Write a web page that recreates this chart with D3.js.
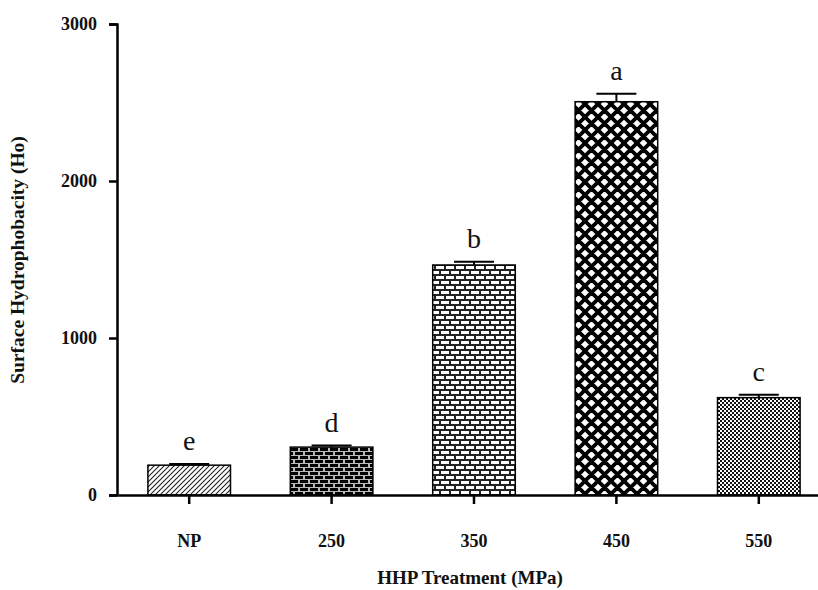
<!DOCTYPE html>
<html>
<head>
<meta charset="utf-8">
<script src="https://cdn.jsdelivr.net/npm/d3@7"></script>
<style>
  body { margin: 0; background: #fff; }
  svg { display: block; }
  .axis path, .axis line { stroke: #000; stroke-width: 2.5px; }
  .axis text { font-family: "Liberation Serif", serif; font-weight: bold; font-size: 18px; fill: #111; }
</style>
</head>
<body>
<div id="chart"></div>
<script>
// 数据
var categories = ['NP', '250', '350', '450', '550'];
var values = [190, 305, 1465, 2505, 620];
var errors = [8, 10, 20, 50, 18];
var letters = ['e', 'd', 'b', 'a', 'c'];
var yTicks = [0, 1000, 2000, 3000];

var width = 818, height = 590;
var svg = d3.select('#chart').append('svg')
  .attr('width', width)
  .attr('height', height);

// 填充图案
var defs = svg.append('defs');
function pattern(id, w, h) {
  return defs.append('pattern')
    .attr('id', id)
    .attr('patternUnits', 'userSpaceOnUse')
    .attr('width', w)
    .attr('height', h);
}
// 斜线
var p0 = pattern('hatch', 5, 5);
p0.append('rect').attr('width', 5).attr('height', 5).attr('fill', '#fff');
p0.append('path').attr('d', 'M-1,6 L6,-1 M-1,1 L1,-1 M4,6 L6,4')
  .attr('stroke', '#222').attr('stroke-width', 1.1);
// 黑砖
var p1 = pattern('brickDark', 10, 8);
p1.append('rect').attr('width', 10).attr('height', 8).attr('fill', '#bbb');
p1.append('rect').attr('x', 0).attr('y', 0).attr('width', 8).attr('height', 3).attr('fill', '#000');
p1.append('rect').attr('x', 5).attr('y', 4).attr('width', 8).attr('height', 3).attr('fill', '#000');
p1.append('rect').attr('x', -5).attr('y', 4).attr('width', 8).attr('height', 3).attr('fill', '#000');
// 白砖
var p2 = pattern('brickLight', 10, 10);
p2.append('rect').attr('width', 10).attr('height', 10).attr('fill', '#222');
p2.append('rect').attr('x', 1).attr('y', 1).attr('width', 8).attr('height', 3).attr('fill', '#fff');
p2.append('rect').attr('x', 6).attr('y', 6).attr('width', 8).attr('height', 3).attr('fill', '#fff');
p2.append('rect').attr('x', -4).attr('y', 6).attr('width', 8).attr('height', 3).attr('fill', '#fff');
// 交叉网格
var p3 = pattern('cross', 13, 13);
p3.append('rect').attr('width', 13).attr('height', 13).attr('fill', '#fff');
p3.append('path').attr('d', 'M-2,-2 L15,15 M-2,15 L15,-2 M-8,4.5 L4.5,-8 M8.5,21 L21,8.5 M-8,8.5 L4.5,21 M8.5,-8 L21,4.5')
  .attr('stroke', '#000').attr('stroke-width', 3.8);
// 棋盘
var p4 = pattern('checker', 4, 4);
p4.append('rect').attr('width', 4).attr('height', 4).attr('fill', '#fff');
p4.append('rect').attr('width', 2).attr('height', 2).attr('fill', '#111');
p4.append('rect').attr('x', 2).attr('y', 2).attr('width', 2).attr('height', 2).attr('fill', '#111');
var fills = ['hatch', 'brickDark', 'brickLight', 'cross', 'checker'];

// 比例尺
var x = d3.scaleBand()
  .domain(categories)
  .range([118, 830])
  .paddingInner(0.42)
  .paddingOuter(0.21);
var y = d3.scaleLinear()
  .domain([0, 3000])
  .range([495, 24]);

// 柱子
svg.append('g').selectAll('rect')
  .data(values)
  .enter()
  .append('rect')
  .attr('x', function (d, i) { return x(categories[i]); })
  .attr('y', function (d) { return y(d); })
  .attr('width', x.bandwidth())
  .attr('height', function (d) { return y(0) - y(d); })
  .attr('fill', function (d, i) { return 'url(#' + fills[i] + ')'; })
  .attr('stroke', '#000')
  .attr('stroke-width', 1.5);

// 误差线
var err = svg.append('g').attr('stroke', '#000').attr('stroke-width', 2);
values.forEach(function (v, i) {
  var cx = x(categories[i]) + x.bandwidth() / 2;
  err.append('line')
    .attr('x1', cx).attr('x2', cx)
    .attr('y1', y(v)).attr('y2', y(v + errors[i]));
  err.append('line')
    .attr('x1', cx - 20).attr('x2', cx + 20)
    .attr('y1', y(v + errors[i])).attr('y2', y(v + errors[i]));
});

// 显著性字母
svg.append('g').selectAll('text')
  .data(letters)
  .enter()
  .append('text')
  .attr('x', function (d, i) { return x(categories[i]) + x.bandwidth() / 2; })
  .attr('y', function (d, i) { return y(values[i] + errors[i]) - 14; })
  .attr('text-anchor', 'middle')
  .attr('font-family', '"Liberation Serif", serif')
  .attr('font-size', '28px')
  .attr('fill', '#111')
  .text(function (d) { return d; });

// 坐标轴
svg.append('g')
  .attr('class', 'axis')
  .attr('transform', 'translate(0,' + y(0) + ')')
  .call(d3.axisBottom(x).tickSize(9).tickSizeOuter(0).tickPadding(30));
svg.append('g')
  .attr('class', 'axis')
  .attr('transform', 'translate(117,0)')
  .call(d3.axisLeft(y).tickValues(yTicks).tickFormat(d3.format('d'))
    .tickSize(8).tickSizeOuter(8).tickPadding(12));

// 坐标轴标题
svg.append('text')
  .attr('x', 470)
  .attr('y', 584)
  .attr('text-anchor', 'middle')
  .attr('font-family', '"Liberation Serif", serif')
  .attr('font-weight', 'bold')
  .attr('font-size', '19px')
  .attr('fill', '#111')
  .text('HHP Treatment (MPa)');
svg.append('text')
  .attr('transform', 'translate(24,260) rotate(-90)')
  .attr('text-anchor', 'middle')
  .attr('font-family', '"Liberation Serif", serif')
  .attr('font-weight', 'bold')
  .attr('font-size', '19.5px')
  .attr('fill', '#111')
  .text('Surface Hydrophobacity (Ho)');
</script>
</body>
</html>
